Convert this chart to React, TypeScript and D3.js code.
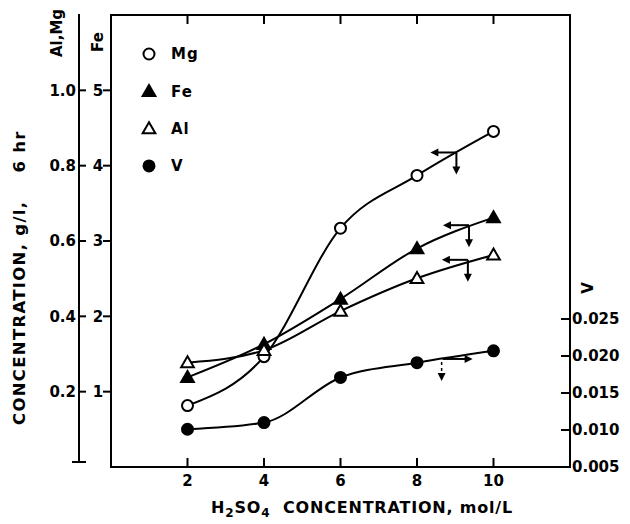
import { useRef, useEffect } from "react";
import * as d3 from "d3";

// H2SO4 concentration, mol/L
const acid = [2, 4, 6, 8, 10];

// metal concentrations (g/l, 6 hr)
const mg = [0.163, 0.293, 0.634, 0.774, 0.891]; // left axis (Al, Mg)
const fe = [1.19, 1.63, 2.23, 2.9, 3.31]; // Fe axis
const al = [0.277, 0.31, 0.414, 0.501, 0.563]; // left axis (Al, Mg)
const v = [0.0101, 0.011, 0.0171, 0.0191, 0.0207]; // right axis (V)

const xTicks = [2, 4, 6, 8, 10];
const alMgTicks = [0.2, 0.4, 0.6, 0.8, 1.0];
const feTicks = [1, 2, 3, 4, 5];
const vTicks = [0.005, 0.01, 0.015, 0.02, 0.025];

const seriesNames = ["Mg", "Fe", "Al", "V"];

// arrow annotations: which axis each curve belongs to
const arrowAt = [
  { name: "Mg", x: 9.03, y: 0.835, dir: "left" },
  { name: "Fe", x: 9.36, y: 3.21, dir: "left" },
  { name: "Al", x: 9.33, y: 0.55, dir: "left" },
  { name: "V", x: 8.67, y: 0.0196, dir: "right" },
];

const FONT = "'DejaVu Sans', sans-serif";

export default function App() {
  const svgRef = useRef<SVGSVGElement>(null);

  useEffect(() => {
    if (!svgRef.current) return;
    const svg = d3.select(svgRef.current);
    svg.selectAll("*").remove();

    const x = d3.scaleLinear().domain([0, 12]).range([111, 570]);
    const yAM = d3.scaleLinear().domain([0, 1.2]).range([467, 15]);
    const yFe = d3.scaleLinear().domain([0, 6]).range([467, 15]);
    const yV = d3.scaleLinear().domain([0.005, 0.025]).range([467, 319]);

    const scaleFor: Record<string, d3.ScaleLinear<number, number>> = {
      Mg: yAM,
      Fe: yFe,
      Al: yAM,
      V: yV,
    };
    const valuesFor: Record<string, number[]> = { Mg: mg, Fe: fe, Al: al, V: v };

    const g = svg.append("g");

    // plot frame
    const x0 = x(0), x1 = x(12), yTop = yAM(1.2), yBot = yAM(0);
    g.append("rect")
      .attr("x", x0)
      .attr("y", yTop)
      .attr("width", x1 - x0)
      .attr("height", yBot - yTop)
      .attr("fill", "none")
      .attr("stroke", "#000")
      .attr("stroke-width", 2);

    // x ticks, top and bottom, inward
    xTicks.forEach((t) => {
      g.append("line")
        .attr("x1", x(t)).attr("x2", x(t))
        .attr("y1", yBot).attr("y2", yBot - 9)
        .attr("stroke", "#000").attr("stroke-width", 2);
      g.append("line")
        .attr("x1", x(t)).attr("x2", x(t))
        .attr("y1", yTop).attr("y2", yTop + 9)
        .attr("stroke", "#000").attr("stroke-width", 2);
      g.append("text")
        .attr("x", x(t))
        .attr("y", 486)
        .attr("text-anchor", "middle")
        .attr("font-family", FONT)
        .attr("font-weight", "bold")
        .attr("font-size", 15)
        .text(t);
    });

    // Al, Mg axis (separate line at left)
    const axX = 79;
    g.append("line")
      .attr("x1", axX).attr("x2", axX)
      .attr("y1", yTop - 1).attr("y2", 462)
      .attr("stroke", "#000").attr("stroke-width", 2);
    g.append("line")
      .attr("x1", axX - 7).attr("x2", axX + 7)
      .attr("y1", 462).attr("y2", 462)
      .attr("stroke", "#000").attr("stroke-width", 2);
    alMgTicks.forEach((t) => {
      g.append("line")
        .attr("x1", axX).attr("x2", axX + 7)
        .attr("y1", yAM(t)).attr("y2", yAM(t))
        .attr("stroke", "#000").attr("stroke-width", 2);
      g.append("text")
        .attr("x", axX - 3)
        .attr("y", yAM(t))
        .attr("dy", "0.36em")
        .attr("text-anchor", "end")
        .attr("font-family", FONT)
        .attr("font-weight", "bold")
        .attr("font-size", 15)
        .text(d3.format(".1f")(t));
    });

    // Fe axis on frame left
    feTicks.forEach((t) => {
      g.append("line")
        .attr("x1", x0).attr("x2", x0 - 8)
        .attr("y1", yFe(t)).attr("y2", yFe(t))
        .attr("stroke", "#000").attr("stroke-width", 2);
      g.append("text")
        .attr("x", 98)
        .attr("y", yFe(t))
        .attr("dy", "0.36em")
        .attr("text-anchor", "middle")
        .attr("font-family", FONT)
        .attr("font-weight", "bold")
        .attr("font-size", 15)
        .text(t);
    });

    // V axis on frame right
    vTicks.forEach((t) => {
      g.append("line")
        .attr("x1", x1).attr("x2", x1 - 9)
        .attr("y1", yV(t)).attr("y2", yV(t))
        .attr("stroke", "#000").attr("stroke-width", 2);
      g.append("text")
        .attr("x", x1 + 2)
        .attr("y", yV(t))
        .attr("dy", "0.36em")
        .attr("font-family", FONT)
        .attr("font-weight", "bold")
        .attr("font-size", 15)
        .text(d3.format(".3f")(t));
    });

    // axis names
    const rotLabel = (cx: number, cy: number, txt: string, size: number, anchor = "middle", spacing = 0) =>
      g.append("text")
        .attr("transform", `translate(${cx},${cy}) rotate(-90)`)
        .attr("text-anchor", anchor)
        .attr("dy", "0.36em")
        .attr("font-family", FONT)
        .attr("font-weight", "bold")
        .attr("font-size", size)
        .attr("letter-spacing", spacing)
        .style("white-space", "pre")
        .text(txt);

    rotLabel(57, 33, "Al,Mg", 15);
    rotLabel(98, 42, "Fe", 15);
    rotLabel(588, 288, "V", 15);
    rotLabel(19, 425, "CONCENTRATION, g/l,    6 hr", 16.5, "start", 1.3);

    const xt = g.append("text")
      .attr("x", 362)
      .attr("y", 513)
      .attr("text-anchor", "middle")
      .attr("font-family", FONT)
      .attr("font-weight", "bold")
      .attr("font-size", 16)
      .attr("letter-spacing", 0.8)
      .style("white-space", "pre");
    xt.append("tspan").text("H");
    xt.append("tspan").attr("font-size", 12).attr("dy", 4).text("2");
    xt.append("tspan").attr("dy", -4).text("SO");
    xt.append("tspan").attr("font-size", 12).attr("dy", 4).text("4");
    xt.append("tspan").attr("dy", -4).text("  CONCENTRATION, mol/L");

    // curves
    const pts = (name: string) =>
      acid.map((a, i) => [x(a), scaleFor[name](valuesFor[name][i])] as [number, number]);
    const line = d3.line().curve(d3.curveMonotoneX);
    seriesNames.forEach((name) => {
      g.append("path")
        .attr("d", line(pts(name)))
        .attr("fill", "none")
        .attr("stroke", "#000")
        .attr("stroke-width", 2);
    });

    // markers
    const tri = d3.symbol().type(d3.symbolTriangle).size(70);
    const drawMarker = (name: string, px: number, py: number) => {
      if (name === "Mg" || name === "V") {
        g.append("circle")
          .attr("cx", px).attr("cy", py).attr("r", 5.5)
          .attr("fill", name === "V" ? "#000" : "#fff")
          .attr("stroke", "#000").attr("stroke-width", 2);
      } else {
        g.append("path")
          .attr("d", tri())
          .attr("transform", `translate(${px},${py + 1})`)
          .attr("fill", name === "Fe" ? "#000" : "#fff")
          .attr("stroke", "#000").attr("stroke-width", 2);
      }
    };
    seriesNames.forEach((name) => pts(name).forEach(([px, py]) => drawMarker(name, px, py)));

    // legend
    seriesNames.forEach((name, i) => {
      const ly = 54 + i * 37.3;
      drawMarker(name, 149, ly);
      g.append("text")
        .attr("x", 171)
        .attr("y", ly)
        .attr("dy", "0.36em")
        .attr("font-family", FONT)
        .attr("font-weight", "bold")
        .attr("font-size", 15)
        .attr("letter-spacing", 1)
        .text(name);
    });

    // arrows
    const head = (tx: number, ty: number, dir: string) => {
      const L = 8, W = 4;
      let p: [number, number][];
      if (dir === "left") p = [[tx, ty], [tx + L, ty - W], [tx + L, ty + W]];
      else if (dir === "right") p = [[tx, ty], [tx - L, ty - W], [tx - L, ty + W]];
      else p = [[tx, ty], [tx - W, ty - L], [tx + W, ty - L]];
      g.append("path").attr("d", "M" + p.join("L") + "Z").attr("fill", "#000");
    };
    arrowAt.forEach((a) => {
      const ax = x(a.x);
      const ay = scaleFor[a.name](a.y);
      if (a.dir === "left") {
        g.append("line").attr("x1", ax).attr("x2", ax - 20).attr("y1", ay).attr("y2", ay)
          .attr("stroke", "#000").attr("stroke-width", 2);
        head(ax - 26, ay, "left");
        g.append("line").attr("x1", ax).attr("x2", ax).attr("y1", ay).attr("y2", ay + 16)
          .attr("stroke", "#000").attr("stroke-width", 2);
        head(ax, ay + 22, "down");
      } else {
        g.append("line").attr("x1", ax).attr("x2", ax + 24).attr("y1", ay).attr("y2", ay)
          .attr("stroke", "#000").attr("stroke-width", 2);
        head(ax + 30, ay, "right");
        g.append("line").attr("x1", ax - 1).attr("x2", ax - 1).attr("y1", ay + 3).attr("y2", ay + 16)
          .attr("stroke", "#000").attr("stroke-width", 1.5).attr("stroke-dasharray", "3,3");
        head(ax - 1, ay + 22, "down");
      }
    });
  }, []);

  return (
    <svg
      ref={svgRef}
      width={630}
      height={524}
      style={{ position: "absolute", left: 0, top: 0, background: "#fff" }}
    />
  );
}
